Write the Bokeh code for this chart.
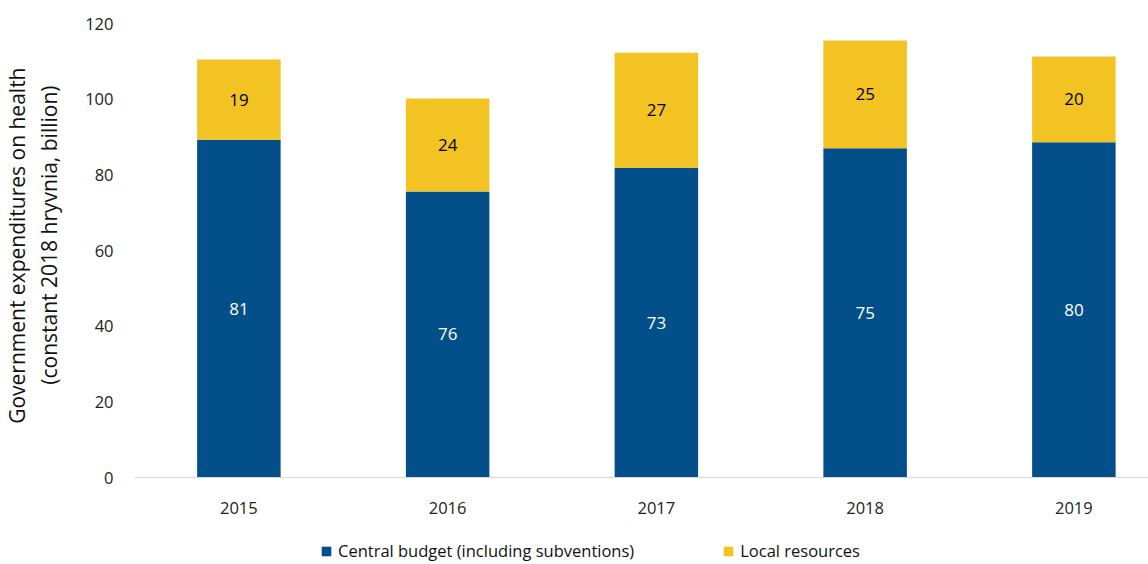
from bokeh.plotting import figure
from bokeh.models import ColumnDataSource, Range1d, FixedTicker, Legend, LegendItem, Title
from bokeh.core.properties import value
from bokeh.embed import file_html
from bokeh.resources import INLINE

years = ["2015", "2016", "2017", "2018", "2019"]
central = [89.3, 75.6, 81.9, 87.0, 88.6]
local = [21.2, 24.6, 30.4, 28.5, 22.7]
central_pct = ["81", "76", "73", "75", "80"]
local_pct = ["19", "24", "27", "25", "20"]
ylabel_lines = ["Government expenditures on health", "(constant 2018 hryvnia, billion)"]

BLUE = "#024f89"
YELLOW = "#f3c324"
FONT = "Open Sans"

xs = list(range(len(years)))
top = [c + l for c, l in zip(central, local)]
src = ColumnDataSource(dict(
    x=xs, central=central, top=top,
    cmid=[c / 2 for c in central],
    lmid=[c + l / 2 for c, l in zip(central, local)],
    cl=central_pct, ll=local_pct,
))

W, H = 1148, 564
LB, TB = 134, 23
PX_PER_UNIT = (477 - TB) / 120.0
p = figure(width=W, height=H, output_backend="svg", toolbar_location=None,
           x_range=Range1d(-0.5, -0.5 + (W - LB) / 208.75),
           y_range=Range1d(-(H - 477) / PX_PER_UNIT, 120),
           min_border_left=LB, min_border_right=0, min_border_top=TB, min_border_bottom=0)
p.outline_line_color = None
p.xgrid.grid_line_color = None
p.ygrid.grid_line_color = None

r1 = p.vbar(x="x", bottom=0, top="central", width=0.4, source=src, fill_color=BLUE, line_color=None)
r2 = p.vbar(x="x", bottom="central", top="top", width=0.4, source=src, fill_color=YELLOW, line_color=None)

p.text(x="x", y="cmid", text="cl", source=src, text_align="center", text_baseline="middle",
       text_color="white", text_font=value(FONT), text_font_size="17px")
p.text(x="x", y="lmid", text="ll", source=src, text_align="center", text_baseline="middle",
       text_color="black", text_font=value(FONT), text_font_size="17px")

p.xaxis.fixed_location = 0
p.xaxis.ticker = FixedTicker(ticks=xs)
p.xaxis.major_label_overrides = {i: y for i, y in enumerate(years)}
p.xaxis.axis_line_color = "#d9d9d9"
p.xaxis.axis_line_width = 1
p.xaxis.major_tick_line_color = None
p.xaxis.minor_tick_line_color = None
p.xaxis.major_label_text_font = FONT
p.xaxis.major_label_text_font_size = "16.5px"
p.xaxis.major_label_text_color = "#222222"
p.xaxis.major_label_standoff = 18

p.yaxis.ticker = FixedTicker(ticks=[0, 20, 40, 60, 80, 100, 120])
p.yaxis.axis_line_color = None
p.yaxis.major_tick_line_color = None
p.yaxis.minor_tick_line_color = None
p.yaxis.major_label_text_font = FONT
p.yaxis.major_label_text_font_size = "16.5px"
p.yaxis.major_label_text_color = "#222222"
p.yaxis.major_label_standoff = 15

# line 2 (closest to axis) first, then line 1 outward
t2 = Title(text=ylabel_lines[1], align="right", offset=62, text_font=FONT, text_font_size="21px",
           text_font_style="normal", text_color="#111111", standoff=39)
t1 = Title(text=ylabel_lines[0], align="right", offset=44, text_font=FONT, text_font_size="21px",
           text_font_style="normal", text_color="#111111", standoff=-35)
p.add_layout(t2, "left")
p.add_layout(t1, "left")

legend = Legend(items=[LegendItem(label="Central budget (including subventions)", renderers=[r1]),
                       LegendItem(label="Local resources", renderers=[r2])],
                orientation="horizontal", location=(186, 2), border_line_color=None,
                background_fill_alpha=0, glyph_width=12, glyph_height=12,
                label_text_font=FONT, label_text_font_size="16.5px", label_standoff=6,
                spacing=88, padding=0, margin=0, label_text_color="#111111")
p.add_layout(legend, "center")

open("out.html", "w").write(file_html(p, INLINE))
